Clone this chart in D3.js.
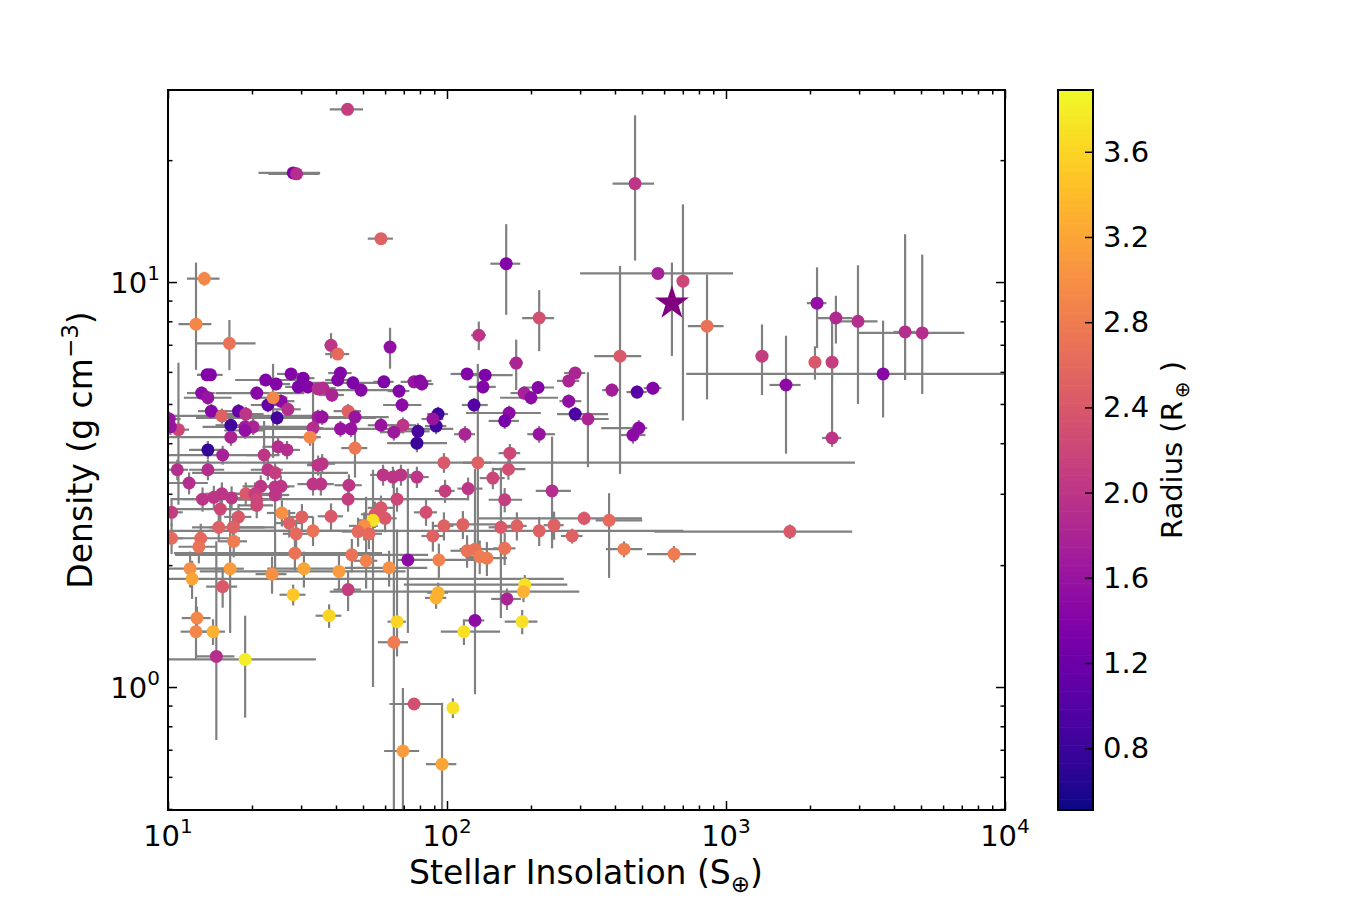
<!DOCTYPE html>
<html>
<head>
<meta charset="utf-8">
<script src="https://cdn.jsdelivr.net/npm/d3@7"></script>
<style>
body { margin: 0; background: #fff; }
svg text { font-family: "DejaVu Sans", sans-serif; fill: #000; }
</style>
</head>
<body>
<svg id="chart" width="1350" height="900"></svg>
<script>
// planets: stellar insolation (S_earth), bulk density (g/cm3), radius (R_earth)
const insolation = [
  44, 28.1, 28.9, 58, 13.5, 12.6, 16.6, 13.8, 14.2, 13.2,
  13.9, 14.3, 15.6, 17.9, 19.0, 16.8, 18.9, 20.2, 18.9, 10.9,
  10.1, 10.2, 16.8, 13.9, 15.7, 10.8, 13.9, 22.1, 22.8, 24.2,
  24.8, 26.7, 24.6, 22.8, 25.4, 26.9, 23.8, 20.8, 22.4, 24.4,
  27.6, 30.5, 29.3, 31.7, 34.5, 34.5, 33.1, 32.3, 34.5, 38.4,
  40.6, 62.5, 41.5, 40.6, 46.0, 49.2, 35.9, 38.7, 59.4, 67.3,
  76.2, 80, 81.3, 118, 69, 44.2, 46.8, 35.7, 41.5, 45.3,
  58.0, 69.5, 64.5, 78.7, 92.9, 91.4, 89, 78, 116, 46.8,
  35.7, 97.5, 59, 64, 68.4, 78, 130, 177, 417, 137,
  134.6, 189, 212, 200, 273, 288, 273, 390, 125, 167,
  161, 288, 320, 214, 168, 129, 166, 146, 472, 163,
  214, 570, 701, 855, 2120, 2477, 2972, 4385, 5050, 1346,
  2084, 2400, 3656, 1641, 2400, 480, 547, 487, 464, 381,
  1694, 431, 651, 119, 161, 238, 310, 114, 156, 178,
  214, 242, 281, 118, 126, 131, 139, 161, 190, 188,
  164, 126, 33.1, 35.3, 44.5, 44.2, 66.2, 98.4, 38.4, 84.1,
  55.2, 58, 60, 54.3, 50.5, 48, 52.5, 33.1, 97.5, 89,
  45.6, 51.3, 72.4, 93.5, 62, 41, 44.2, 92.9, 91.4, 37.8,
  66.2, 11.9, 21.5, 24.2, 25.4, 13.3, 14.6, 15.6, 16.9, 19.0,
  20.5, 20.8, 20.8, 24.2, 10.3, 15.4, 17.9, 15.2, 17.1, 25.6,
  27.2, 30.2, 28.8, 10.3, 13.1, 12.9, 17.2, 28.5, 12.0, 12.2,
  16.7, 23.6, 30.7, 15.7, 28.1, 12.7, 12.6, 14.5, 14.9, 18.9,
  115, 64.5, 76.2, 105, 69.5, 96, 186
];

const density = [
  26.7, 18.6, 18.5, 12.8, 10.2, 7.87, 7.06, 5.9, 5.9, 5.32,
  5.18, 4.80, 4.67, 4.80, 4.72, 4.43, 4.39, 4.39, 4.30, 4.32,
  4.59, 4.39, 4.14, 3.85, 3.74, 3.44, 3.44, 3.74, 3.44, 3.38,
  3.92, 3.85, 4.62, 4.97, 5.08, 4.85, 5.18, 5.32, 5.73, 5.60,
  5.93, 5.79, 5.51, 5.51, 5.45, 4.64, 4.36, 4.14, 3.53, 6.98,
  6.64, 6.91, 5.96, 5.73, 5.64, 5.41, 5.47, 5.26, 5.67, 5.38,
  5.67, 5.70, 5.60, 5.93, 4.97, 4.80, 4.64, 4.64, 4.34, 4.34,
  4.43, 4.43, 4.26, 4.28, 4.72, 4.41, 4.59, 4.00, 4.21, 3.89,
  3.56, 3.58, 3.34, 3.30, 3.34, 3.30, 7.39, 6.31, 6.56, 5.89,
  5.51, 5.32, 5.49, 5.18, 5.70, 5.96, 5.08, 5.41, 4.97, 4.75,
  4.54, 4.72, 4.59, 4.21, 3.78, 3.58, 3.45, 3.28, 17.5, 11.1,
  8.15, 10.5, 10.05, 7.78, 8.87, 8.15, 8.0, 7.53, 7.49, 6.56,
  6.34, 6.34, 5.93, 5.57, 4.12, 5.35, 5.47, 4.36, 4.19, 2.58,
  2.42, 2.19, 2.13, 3.09, 2.90, 3.05, 2.61, 2.52, 2.48, 2.50,
  2.43, 2.51, 2.36, 2.17, 2.19, 2.10, 2.08, 2.20, 1.79, 1.72,
  1.65, 1.46, 3.17, 3.17, 3.15, 2.91, 2.91, 3.05, 2.64, 2.70,
  2.67, 2.77, 2.61, 2.58, 2.50, 2.42, 2.39, 2.43, 2.50, 2.36,
  2.12, 2.05, 2.06, 2.06, 1.97, 1.93, 1.74, 1.71, 1.66, 1.50,
  1.45, 3.19, 3.13, 3.12, 3.13, 2.91, 2.94, 3.0, 2.93, 3.0,
  3.0, 2.90, 2.81, 2.98, 2.70, 2.75, 2.63, 2.48, 2.48, 2.69,
  2.54, 2.63, 2.39, 2.33, 2.33, 2.22, 2.29, 2.14, 1.96, 1.85,
  1.96, 1.90, 1.96, 1.77, 1.69, 1.48, 1.37, 1.37, 1.19, 1.17,
  1.37, 1.29, 0.908, 0.888, 0.695, 0.645, 1.45
];

const radius = [
  2.1, 1.4, 1.9, 2.5, 2.9, 2.9, 2.7, 1.35, 1.4, 1.5,
  1.6, 1.45, 2.5, 1.15, 2.0, 0.85, 1.7, 1.8, 1.55, 2.2,
  1.6, 1.6, 1.8, 0.75, 1.75, 1.9, 1.9, 2.0, 2.0, 2.1,
  1.9, 1.9, 0.9, 1.15, 1.5, 1.9, 2.9, 1.45, 1.4, 1.4,
  1.4, 1.35, 1.35, 1.4, 1.9, 1.7, 1.9, 2.9, 2.0, 2.0,
  2.6, 1.55, 1.4, 1.4, 1.35, 1.45, 1.9, 1.8, 1.35, 1.4,
  1.6, 1.45, 1.5, 1.4, 1.5, 2.5, 1.6, 1.6, 1.6, 1.6,
  1.6, 2.0, 1.65, 0.9, 0.85, 0.85, 1.6, 0.8, 1.8, 2.75,
  2.0, 2.4, 2.0, 2.0, 2.0, 2.0, 2.0, 1.8, 2.4, 1.35,
  1.4, 1.75, 1.4, 1.5, 1.8, 1.8, 1.55, 1.7, 1.0, 1.5,
  1.3, 0.95, 1.8, 1.6, 2.2, 2.5, 2.3, 2.2, 2.0, 1.4,
  2.3, 1.75, 2.2, 2.7, 1.55, 1.85, 1.9, 1.9, 1.9, 2.1,
  2.4, 2.1, 1.45, 1.5, 2.0, 1.05, 1.4, 1.5, 1.5, 2.6,
  2.4, 2.8, 2.8, 2.0, 2.1, 1.9, 2.4, 2.5, 2.4, 2.5,
  2.5, 2.5, 2.5, 2.7, 2.7, 2.8, 2.8, 2.7, 3.7, 3.3,
  1.8, 1.5, 2.0, 2.0, 2.0, 2.1, 2.2, 2.1, 2.4, 2.3,
  2.4, 2.4, 2.4, 3.7, 3.0, 2.6, 2.6, 2.7, 2.5, 2.5,
  2.7, 2.85, 1.5, 2.85, 3.0, 3.1, 2.1, 3.3, 3.3, 3.6,
  3.6, 1.9, 2.0, 2.0, 2.0, 2.0, 2.0, 2.0, 2.0, 2.4,
  2.1, 2.2, 2.2, 2.0, 2.1, 2.2, 2.4, 2.5, 2.5, 3.0,
  2.5, 2.5, 2.6, 2.6, 2.6, 2.7, 2.8, 2.7, 3.0, 3.2,
  3.1, 3.0, 3.2, 2.4, 3.5, 2.9, 2.9, 3.3, 1.9, 3.8,
  3.7, 2.8, 2.3, 3.7, 3.1, 3.2, 3.7
];

// uncertainties: a number is symmetric, a pair is [minus, plus]
const insolErr = [
  6, 7, 6, 6, 1.8, 1.7, 4, 1, 1.5, 1.5,
  [2.5, 3], 1.5, [5.6, 20], 2, 3, 2, [5.6, 14], 3, 3, 1,
  1, 1, [6.7, 18], 2, [5.7, 8], 1, 2, 3, 3, [12, 20],
  3, 3, [12, 31], 3, 3, 3, 3, [6, 10], [5, 9], 3,
  3, 3, 3, 3, 3, 3, 3, 3, 3, 2,
  4, 2, 4, 4, [14, 15], [12, 15], 4, 4, 5, 6,
  8, 8, 8, 15, [10, 12], 5, [10, 15], 4, 5, [25, 60],
  6, 8, 6, 8, 8, 8, 8, [17, 22], 10, 5,
  4, [87.5, 2800], 6, 6, 6, 8, 8, 10, 80, [18, 35],
  15, 20, [25, 30], [45, 50], 25, 25, [20, 30], 30, [12, 15], 50,
  20, [40, 90], [30, 60], [20, 30], 15, 15, [20, 25], 15, 80, 20,
  28, [270, 490], 30, 125, 170, 360, 520, 400, 2100, 70,
  100, 100, [2936, 6500], 210, 190, 40, 40, [130, 35], 50, [40, 120],
  1140, [60, 70], 130, [10, 15], [20, 25], [30, 40], [180, 190], [15, 40], 15, 15,
  [200, 490], 20, 25, 15, [15, 30], 15, [20, 25], 15, [120, 80], [150, 110],
  20, 10, 4, 4, 5, [34, 75], 6, 8, 4, 8,
  6, 6, 6, 6, 6, 6, 6, [23, 27], 8, 8,
  [35, 40], 5, 6, [25, 40], [19, 23], [28, 30], 5, 8, 8, 4,
  5, 2, 3, 3, 3, 2, 2, 2, 2, 2,
  3, 3, 3, 3, 1, 5, 2, [3, 7], [3, 7], 3,
  3, 3, 3, 1, [3, 5], 2, 2, [18, 30], [2, 5], [2.2, 250],
  2, 3, [8, 10], 2, 3, 1.5, 1.5, 1.5, 2.4, [8.9, 15],
  [20, 40], 8, [14, 19], 5, 10, 12, 25
];

const densErr = [
  0.6, 0.4, 0.4, 0.4, 0.4, [1.8, 3.3], 1.0, 0.2, 0.2, 0.2,
  0.2, 0.2, 0.2, 0.2, 0.2, 0.2, 0.2, 0.2, 0.2, [1.5, 2.0],
  0.2, 0.2, 0.2, 0.2, 0.2, 0.2, 0.2, [0.2, 0.8], 0.2, 0.2,
  0.2, 0.2, 0.2, 0.2, 0.2, 0.2, [1.5, 1.1], 0.2, 0.2, 0.2,
  0.2, 0.2, 0.2, 0.2, 0.2, 0.2, 1.0, 0.2, 0.2, 0.5,
  0.2, 0.8, 0.2, 0.2, 0.2, 0.2, 0.2, 0.2, 0.2, 0.2,
  0.2, 0.2, 0.2, 0.2, 0.2, 0.2, 0.2, 0.2, 0.2, 0.2,
  0.2, 0.2, 0.2, 0.2, 0.2, 0.2, 0.2, 0.2, 0.2, 0.6,
  0.2, 0.2, 0.2, 0.2, 0.2, 0.2, 0.6, 0.9, [3.2, 4.4], 0.2,
  0.2, 0.2, 0.2, 0.2, 0.2, 0.2, 0.2, 0.2, 0.2, 0.2,
  0.2, 0.2, [1.1, 1.4], 0.2, 0.2, [1.5, 2.7], 0.2, 0.2, [6.2, 8.3], 2.8,
  1.4, 0.2, 5.5, 2.65, 2.0, 1.1, 3.0, [1.8, 5.6], [2.2, 4.2], 1.3,
  0.6, 0.6, [1.3, 2.1], 1.8, [0.2, 3.9], 0.2, 0.2, 0.2, 0.2, [0.72, 0.43],
  0.1, 0.1, 0.1, 0.2, 0.2, [0.85, 1.1], 0.1, 0.2, 1.0, 0.2,
  0.2, 0.2, 0.1, 0.2, 0.2, 0.2, 0.2, 0.2, 0.1, 0.1,
  0.1, [0.5, 2.0], 0.2, 0.2, 0.2, 0.2, 0.2, 0.2, 0.2, 0.2,
  0.2, 0.2, 0.2, [1.58, 0.86], 0.2, 0.2, 0.2, 0.2, 0.2, 0.2,
  0.2, [0.3, 0.9], [0.7, 1.4], 0.2, 0.2, 0.2, 0.2, 0.1, 0.1, 0.1,
  [0.26, 1.0], 0.2, 0.2, 0.2, 0.2, 0.2, 0.2, 0.2, 0.2, 0.2,
  0.2, 0.2, 0.2, [1.1, 0.2], 0.2, 0.2, 0.2, 0.2, 0.2, 0.2,
  0.2, 0.2, 0.2, 0.2, 0.2, 0.2, 0.2, 0.2, 0.2, 0.2,
  [0.6, 0.94], 0.2, 0.2, 0.2, 0.1, 0.1, [0.2, 0.3], 0.1, [0.45, 1.1], 0.33,
  0.1, [1.0, 2.15], 0.03, 0.05, [0.5, 0.3], [0.5, 0.27], 0.1
];

// highlighted planet (star marker)
const starInsolation = 640, starDensity = 8.87, starDensErr = 2.3;

const xMajor = [10, 100, 1000, 10000];
const xMajorExp = ['1', '2', '3', '4'];
const yMajor = [1, 10];
const yMajorExp = ['0', '1'];
const cbarTicks = [0.8, 1.2, 1.6, 2.0, 2.4, 2.8, 3.2, 3.6];

let svg = d3.select('#chart');
let pLeft = 168, pRight = 1005, pTop = 90, pBottom = 810;

let x = d3.scaleLog().domain([10, 1e4]).range([pLeft, pRight]);
let y = d3.scaleLog().domain([0.497, 29.8]).range([pBottom, pTop]);
let cScale = d3.scaleLinear().domain([0.51, 3.89]).range([0, 1]);
let color = r => d3.interpolatePlasma(cScale(r));

const pair = e => Array.isArray(e) ? e : [e, e];
let points = insolation.map((s, i) => ({
  s: s, d: density[i], r: radius[i],
  se: pair(insolErr[i]), de: pair(densErr[i])
}));

svg.append('defs').append('clipPath').attr('id', 'plotclip')
  .append('rect').attr('x', pLeft).attr('y', pTop)
  .attr('width', pRight - pLeft).attr('height', pBottom - pTop);

let plot = svg.append('g').attr('clip-path', 'url(#plotclip)');

// error bars first
let bars = plot.append('g')
  .attr('stroke', '#808080')
  .attr('stroke-width', 2.2);

bars.selectAll('line.xerr')
  .data(points)
  .enter().append('line')
  .attr('x1', d => x(Math.max(d.s - d.se[0], 1)))
  .attr('x2', d => x(d.s + d.se[1]))
  .attr('y1', d => y(d.d))
  .attr('y2', d => y(d.d));

bars.selectAll('line.yerr')
  .data(points)
  .enter().append('line')
  .attr('x1', d => x(d.s))
  .attr('x2', d => x(d.s))
  .attr('y1', d => y(Math.max(d.d - d.de[0], 0.01)))
  .attr('y2', d => y(d.d + d.de[1]));

bars.append('line')
  .attr('x1', x(starInsolation)).attr('x2', x(starInsolation))
  .attr('y1', y(starDensity - starDensErr)).attr('y2', y(starDensity + starDensErr));

plot.append('g')
  .selectAll('circle')
  .data(points)
  .enter().append('circle')
  .attr('cx', d => x(d.s))
  .attr('cy', d => y(d.d))
  .attr('r', 6.5)
  .attr('fill', d => color(d.r));

plot.append('path')
  .attr('d', d3.symbol().type(d3.symbolStar).size(360)())
  .attr('transform', `translate(${x(starInsolation)},${y(starDensity)})`)
  .attr('fill', '#800080');

// ticks, inward on all four sides
function minorTicks(lo, hi) {
  let out = [];
  for (let p = Math.floor(Math.log10(lo)); p <= Math.ceil(Math.log10(hi)); p++) {
    for (let k = 2; k <= 9; k++) {
      let v = k * Math.pow(10, p);
      if (v >= lo && v <= hi) out.push(v);
    }
  }
  return out;
}
let xMinor = minorTicks(10, 1e4);
let yMinor = minorTicks(0.497, 29.8);

function tickAxis(axis, tx, ty) {
  let g = svg.append('g').attr('transform', `translate(${tx},${ty})`).call(axis);
  g.select('.domain').remove();
  g.selectAll('.tick line').attr('stroke', '#000').attr('stroke-width', 1.5);
  return g;
}
tickAxis(d3.axisBottom(x).tickValues(xMajor).tickSize(-9).tickFormat(''), 0, pBottom);
tickAxis(d3.axisBottom(x).tickValues(xMinor).tickSize(-4.5).tickFormat(''), 0, pBottom);
tickAxis(d3.axisTop(x).tickValues(xMajor).tickSize(-9).tickFormat(''), 0, pTop);
tickAxis(d3.axisTop(x).tickValues(xMinor).tickSize(-4.5).tickFormat(''), 0, pTop);
tickAxis(d3.axisLeft(y).tickValues(yMajor).tickSize(-9).tickFormat(''), pLeft, 0);
tickAxis(d3.axisLeft(y).tickValues(yMinor).tickSize(-4.5).tickFormat(''), pLeft, 0);
tickAxis(d3.axisRight(y).tickValues(yMajor).tickSize(-9).tickFormat(''), pRight, 0);
tickAxis(d3.axisRight(y).tickValues(yMinor).tickSize(-4.5).tickFormat(''), pRight, 0);

svg.append('rect')
  .attr('x', pLeft).attr('y', pTop)
  .attr('width', pRight - pLeft).attr('height', pBottom - pTop)
  .attr('fill', 'none').attr('stroke', '#000').attr('stroke-width', 2);

// tick labels as 10^n
function powerLabel(g, exp) {
  g.append('tspan').text('10');
  g.append('tspan').attr('dy', -13).attr('font-size', 20).text(exp);
}
xMajor.forEach((v, i) => {
  let t = svg.append('text').attr('x', x(v)).attr('y', 846)
    .attr('text-anchor', 'middle').attr('font-size', 29);
  powerLabel(t, xMajorExp[i]);
});
yMajor.forEach((v, i) => {
  let t = svg.append('text').attr('x', 160).attr('y', y(v) + 11)
    .attr('text-anchor', 'end').attr('font-size', 29);
  powerLabel(t, yMajorExp[i]);
});

// axis titles
let xl = svg.append('text').attr('x', 586).attr('y', 884)
  .attr('text-anchor', 'middle').attr('font-size', 33);
xl.append('tspan').text('Stellar Insolation (S');
xl.append('tspan').attr('dy', 8).attr('font-size', 23).text('\u2295');
xl.append('tspan').attr('dy', -8).text(')');

let yl = svg.append('text').attr('transform', 'translate(92,450) rotate(-90)')
  .attr('text-anchor', 'middle').attr('font-size', 33);
yl.append('tspan').text('Density (g cm');
yl.append('tspan').attr('dy', -14).attr('font-size', 23).text('\u22123');
yl.append('tspan').attr('dy', 14).text(')');

// colorbar
let cbX = 1058, cbW = 35;
let cy = d3.scaleLinear().domain([0.51, 3.89]).range([pBottom, pTop]);
let steps = d3.range(0, 200);
svg.append('g').selectAll('rect')
  .data(steps)
  .enter().append('rect')
  .attr('x', cbX).attr('width', cbW)
  .attr('y', i => pTop + (pBottom - pTop) * i / 200)
  .attr('height', (pBottom - pTop) / 200 + 0.6)
  .attr('fill', i => d3.interpolatePlasma(1 - (i + 0.5) / 200));

let cbAxis = svg.append('g').attr('transform', `translate(${cbX + cbW},0)`)
  .call(d3.axisRight(cy).tickValues(cbarTicks).tickSize(-8).tickFormat(''));
cbAxis.select('.domain').remove();
cbAxis.selectAll('.tick line').attr('stroke', '#000').attr('stroke-width', 1.5);

svg.append('rect').attr('x', cbX).attr('y', pTop)
  .attr('width', cbW).attr('height', pBottom - pTop)
  .attr('fill', 'none').attr('stroke', '#000').attr('stroke-width', 2);

svg.append('g').selectAll('text')
  .data(cbarTicks)
  .enter().append('text')
  .attr('x', 1103).attr('y', d => cy(d) + 10)
  .attr('font-size', 29)
  .text(d => d.toFixed(1));

let cl = svg.append('text').attr('transform', 'translate(1182,450) rotate(-90)')
  .attr('text-anchor', 'middle').attr('font-size', 29);
cl.append('tspan').text('Radius (R');
cl.append('tspan').attr('dy', 7).attr('dx', 3).attr('font-size', 20).text('\u2295');
cl.append('tspan').attr('dy', -7).text('\u00a0)');
</script>
</body>
</html>
